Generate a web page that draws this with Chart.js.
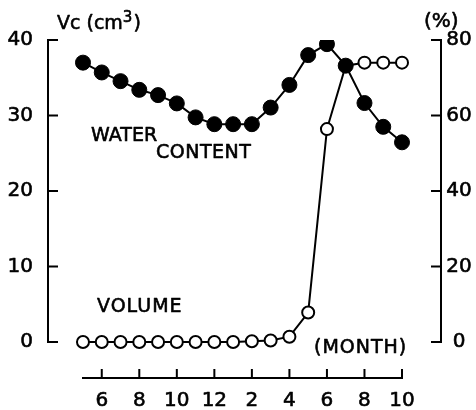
<!DOCTYPE html>
<html><head><meta charset="utf-8">
<script src="https://cdn.jsdelivr.net/npm/chart.js@4/dist/chart.umd.min.js"></script>
<style>html,body{margin:0;padding:0;background:#fff}canvas{display:block}</style>
</head><body>
<canvas id="c" width="476" height="410"></canvas>
<script>
// Months from May (year 1) to October (year 2)
const months = [5,6,7,8,9,10,11,12,1,2,3,4,5,6,7,8,9,10];
// Water content (%) – right axis, filled circles
const waterContent = [74.0,71.4,69.1,66.8,65.4,63.2,59.5,57.7,57.7,57.7,62.1,68.1,76.0,78.9,73.2,63.3,57.0,52.9];
// Volume Vc (cm3) – left axis, open circles
const volume = [0,0,0,0,0,0,0,0,0,0.1,0.2,0.7,3.9,28.2,36.6,37.0,37.0,37.0];
const leftTicks = [0,10,20,30,40];
const rightTicks = [0,20,40,60,80];
const monthTickLabels = [6,8,10,12,2,4,6,8,10];

const FONT = '"DejaVu Sans", "Liberation Sans", sans-serif';

function txt(ctx, s, x, y) {
  ctx.fillText(s, x, y);
  ctx.strokeText(s, x, y);
}

const axesPlugin = {
  id: 'axes',
  afterDraw(chart) {
    const ctx = chart.ctx, a = chart.chartArea;
    const xs = chart.scales.x, yl = chart.scales.y, yr = chart.scales.y2;
    ctx.save();
    ctx.strokeStyle = '#000'; ctx.fillStyle = '#000';
    ctx.lineWidth = 2; ctx.lineCap = 'square';
    // left axis
    const lx = a.left;
    ctx.beginPath();
    ctx.moveTo(lx, yl.getPixelForValue(40)); ctx.lineTo(lx, yl.getPixelForValue(0));
    leftTicks.forEach(v => { const p = yl.getPixelForValue(v); ctx.moveTo(lx, p); ctx.lineTo(lx + 9, p); });
    ctx.stroke();
    // right axis
    const rx = a.right;
    ctx.beginPath();
    ctx.moveTo(rx, yr.getPixelForValue(80)); ctx.lineTo(rx, yr.getPixelForValue(0));
    rightTicks.forEach(v => { const p = yr.getPixelForValue(v); ctx.moveTo(rx, p); ctx.lineTo(rx - 9, p); });
    ctx.stroke();
    // bottom axis
    const by = a.bottom;
    ctx.beginPath();
    ctx.moveTo(xs.getPixelForValue(0), by); ctx.lineTo(xs.getPixelForValue(months.length - 1), by);
    const tickIdx = [];
    months.forEach((m, i) => { if (m % 2 === 0) tickIdx.push(i); });
    tickIdx.forEach(i => { const p = xs.getPixelForValue(i); ctx.moveTo(p, by); ctx.lineTo(p, by - 8); });
    ctx.stroke();

    // tick labels
    ctx.lineWidth = 0.6; ctx.lineCap = 'butt'; ctx.lineJoin = 'round';
    ctx.font = '20px ' + FONT;
    ctx.textBaseline = 'middle';
    ctx.textAlign = 'right';
    leftTicks.forEach(v => txt(ctx, String(v), lx - 15, yl.getPixelForValue(v)));
    ctx.textAlign = 'center';
    rightTicks.forEach(v => txt(ctx, String(v), rx + 18, yr.getPixelForValue(v)));
    tickIdx.forEach((i, k) => txt(ctx, String(monthTickLabels[k]), xs.getPixelForValue(i), by + 23));

    // annotations
    ctx.textAlign = 'left'; ctx.textBaseline = 'alphabetic';
    ctx.font = '19px ' + FONT;
    let t = 'Vc (cm';
    txt(ctx, t, 57, 29);
    let w = ctx.measureText(t).width;
    ctx.font = '15px ' + FONT;
    txt(ctx, '3', 57 + w, 22);
    const w3 = ctx.measureText('3').width;
    ctx.font = '19px ' + FONT;
    txt(ctx, ')', 57 + w + w3 + 1, 29);
    ctx.font = '20px ' + FONT;
    txt(ctx, '(%)', 424, 27);
    ctx.font = '19px ' + FONT;
    txt(ctx, 'WATER', 91, 141);
    ctx.letterSpacing = '0.5px';
    txt(ctx, 'CONTENT', 156, 158);
    ctx.letterSpacing = '1px';
    txt(ctx, 'VOLUME', 97, 312);
    txt(ctx, '(MONTH)', 314, 353);
    ctx.restore();
  }
};

new Chart(document.getElementById('c'), {
  type: 'line',
  data: {
    datasets: [
      {
        label: 'WATER CONTENT',
        data: months.map((m, i) => ({ x: i, y: waterContent[i] })),
        yAxisID: 'y2',
        borderColor: '#000', borderWidth: 2,
        pointRadius: 7.5, pointBackgroundColor: '#000', pointBorderColor: '#000', pointBorderWidth: 1,
        tension: 0, order: 0
      },
      {
        label: 'VOLUME',
        data: months.map((m, i) => ({ x: i, y: volume[i] })),
        yAxisID: 'y',
        borderColor: '#000', borderWidth: 2,
        pointRadius: 6, pointBackgroundColor: '#fff', pointBorderColor: '#000', pointBorderWidth: 2,
        tension: 0, order: 1
      }
    ]
  },
  options: {
    responsive: false, animation: false,
    layout: { padding: { left: 48, right: 35, top: 40, bottom: 32 } },
    plugins: { legend: { display: false }, tooltip: { enabled: false } },
    scales: {
      x: { type: 'linear', display: false, min: -1.865, max: 19.078 },
      y: { type: 'linear', display: false, min: -4.768, max: 40 },
      y2: { type: 'linear', display: false, min: -9.536, max: 80 }
    }
  },
  plugins: [axesPlugin]
});
</script>
</body></html>
